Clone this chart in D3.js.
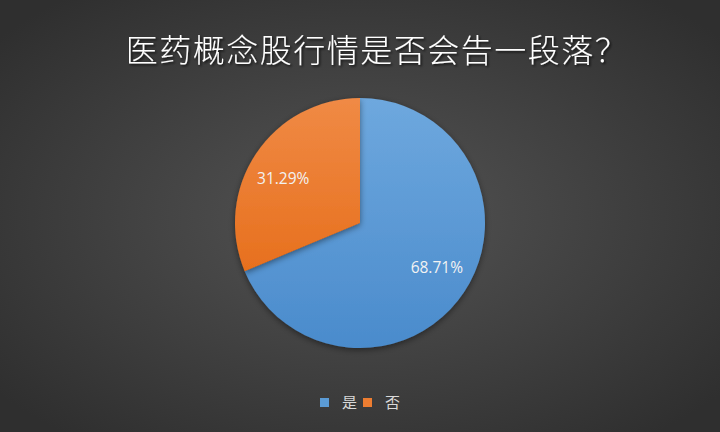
<!DOCTYPE html>
<html>
<head>
<meta charset="UTF-8" />
<title>Pie</title>
<script src="https://d3js.org/d3.v7.min.js"></script>
<style>
  body { margin: 0; background: #333; }
  svg { display: block; }
</style>
</head>
<body>
<svg id="chart" width="720" height="432"></svg>
<script>
// data
var categories = ['是', '否'];
var values = [68.71, 31.29];
var colors = ['#5b9bd5', '#ed7d31'];
var titleText = '医药概念股行情是否会告一段落？';

var svg = d3.select('#chart');
var W = 720, H = 432;
var defs = svg.append('defs');

// background gradient
var bg = defs.append('radialGradient').attr('id', 'bg')
  .attr('cx', '50%').attr('cy', '50%').attr('r', '65%');
bg.append('stop').attr('offset', '0%').attr('stop-color', '#545454');
bg.append('stop').attr('offset', '100%').attr('stop-color', '#2f2f2f');
svg.append('rect').attr('width', W).attr('height', H).attr('fill', 'url(#bg)');

// slice gradients
var grads = [['#6ea8de', '#4a8bcc'], ['#f08a45', '#e7701e']];
grads.forEach(function (g, i) {
  var lg = defs.append('linearGradient').attr('id', 'g' + i)
    .attr('x1', 0).attr('y1', 0).attr('x2', 0).attr('y2', 1);
  lg.append('stop').attr('offset', '0%').attr('stop-color', g[0]);
  lg.append('stop').attr('offset', '100%').attr('stop-color', g[1]);
});

var shadow = defs.append('filter').attr('id', 'sh')
  .attr('x', '-20%').attr('y', '-20%').attr('width', '140%').attr('height', '140%');
shadow.append('feDropShadow').attr('dx', 0).attr('dy', 2).attr('stdDeviation', 3)
  .attr('flood-color', '#000').attr('flood-opacity', 0.45);

var tshadow = defs.append('filter').attr('id', 'tsh');
tshadow.append('feDropShadow').attr('dx', 1.5).attr('dy', 1.5).attr('stdDeviation', 1)
  .attr('flood-color', '#000').attr('flood-opacity', 0.7);

// title
svg.append('text')
  .attr('x', 377).attr('y', 62)
  .attr('text-anchor', 'middle')
  .attr('fill', '#fff')
  .attr('font-family', '"Noto Sans CJK SC", sans-serif')
  .attr('font-weight', 300)
  .attr('font-size', 32)
  .attr('letter-spacing', 1.5)
  .attr('filter', 'url(#tsh)')
  .text(titleText);

// pie
var cx = 360, cy = 223, r = 125;
var pie = d3.pie().sort(null).value(function (d) { return d; });
var arc = d3.arc().innerRadius(0).outerRadius(r);
var arcs = pie(values);

var g = svg.append('g').attr('transform', 'translate(' + cx + ',' + cy + ')');
g.selectAll('path.slice')
  .data(arcs)
  .enter()
  .append('path')
  .attr('class', 'slice')
  .attr('d', arc)
  .attr('fill', function (d, i) { return 'url(#g' + i + ')'; })
  .attr('filter', 'url(#sh)');

// labels
var labelArc = d3.arc().innerRadius(r * 0.71).outerRadius(r * 0.71);
g.selectAll('text.lbl')
  .data(arcs)
  .enter()
  .append('text')
  .attr('class', 'lbl')
  .attr('transform', function (d) {
    var c = labelArc.centroid(d);
    return 'translate(' + (c[0] * 1.04) + ',' + (c[1] * 0.9) + ')';
  })
  .attr('text-anchor', 'middle')
  .attr('dy', '0.35em')
  .attr('fill', '#f2f2f2')
  .attr('font-family', '"Open Sans", sans-serif')
  .attr('font-size', 15.5)
  .text(function (d) { return d.data.toFixed(2) + '%'; });

// legend
var lx = [320, 363];
var leg = svg.append('g');
categories.forEach(function (c, i) {
  leg.append('rect')
    .attr('x', lx[i]).attr('y', 398)
    .attr('width', 9).attr('height', 9)
    .attr('fill', colors[i]);
  leg.append('text')
    .attr('x', lx[i] + 22).attr('y', 403)
    .attr('dy', '0.35em')
    .attr('fill', '#d9d9d9')
    .attr('font-family', '"Noto Sans CJK SC", sans-serif')
    .attr('font-size', 15)
    .text(c);
});
</script>
</body>
</html>
